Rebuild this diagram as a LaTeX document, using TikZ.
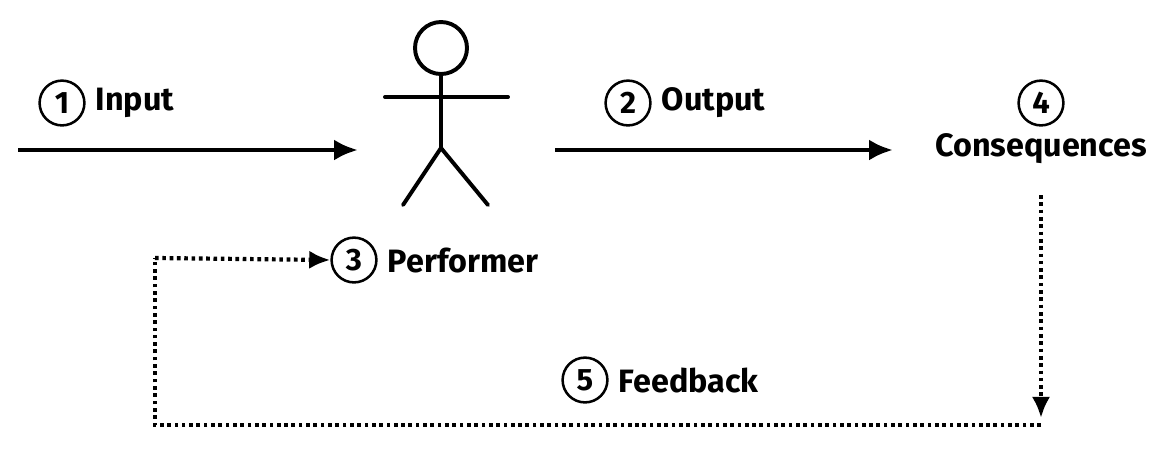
\documentclass[tikz,border=0pt]{standalone}
\usepackage{fontspec}
\setmainfont{Fira Sans}
\usetikzlibrary{positioning,arrows.meta}
\tikzset{
  num/.style={circle, draw, line width=1.8pt, minimum size=1.12cm, inner sep=0pt, font=\fontsize{22}{24}\selectfont\bfseries},
  lbl/.style={font=\fontsize{23}{26}\selectfont\bfseries, inner sep=1pt},
  flow/.style={line width=3.5pt, -{Latex[length=17pt,width=15pt]}},
  fb/.style={line width=3pt, dash pattern=on 2.6pt off 2.6pt},
  body/.style={line width=2.8pt, line cap=round}
}
\begin{document}
\begin{tikzpicture}[x=0.025cm, y=-0.025cm]
    \useasboundingbox (0,0) rectangle (1158,450);
    % Blocks
    \node [num] (n1) at (62,103) {1};
    \node [lbl, right=6pt of n1] (input) {Input};
    \node [num] (n2) at (628,103) {2};
    \node [lbl, right=6pt of n2] (output) {Output};
    \node [num] (n4) at (1041,103) {4};
    \node [lbl, below=4pt of n4] (cons) {Consequences};
    \node [num] (n3) at (354,260) {3};
    \node [lbl, right=6pt of n3] (perf) {Performer};
    \node [num] (n5) at (585,380) {5};
    \node [lbl, right=6pt of n5] (feed) {Feedback};
    \coordinate (inStart) at (18,150);
    \coordinate (inEnd) at (358,150);
    \coordinate (outStart) at (555,150);
    \coordinate (outEnd) at (893,150);
    \coordinate (fbTop) at (1041,195);
    \coordinate (fbDown) at (1041,418);
    \coordinate (fbRight) at (1041,425);
    \coordinate (fbLeft) at (155,425);
    \coordinate (fbUp) at (155,258);

    % Performer
    \draw [body] (441,48) circle (26);
    \draw [body] (441,74) -- (441,148);
    \draw [body] (385,97) -- (508,97);
    \draw [body] (403,205) -- (441,148) -- (488,205);

    % Connections
    \draw [flow] (inStart) -- (inEnd);
    \draw [flow] (outStart) -- (outEnd);
    \draw [fb, -{Latex[length=15pt,width=13pt]}] (fbTop) -- (fbDown);
    \draw [fb] (fbRight) -- (fbLeft) -- (fbUp);
    \draw [fb, -{Latex[length=15pt,width=13pt]}] (fbUp) -- (n3.west);
\end{tikzpicture}
\end{document}
